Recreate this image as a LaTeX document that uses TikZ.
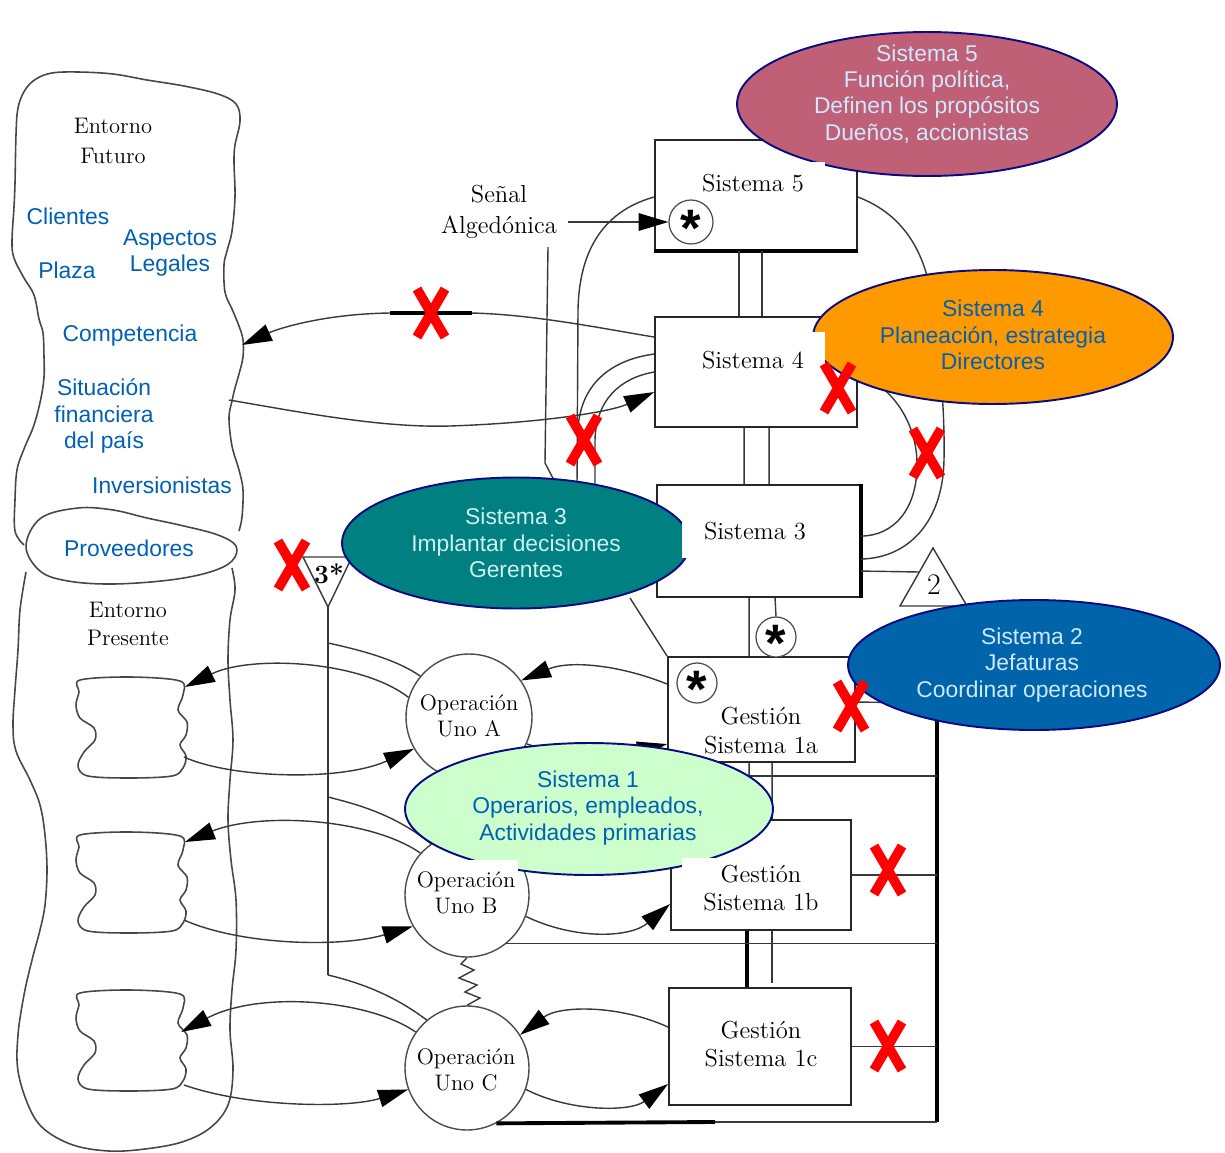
\documentclass[tikz,border=0pt]{standalone}
\usepackage{fontspec}
\newfontfamily\pixsans{Liberation Sans}
\usetikzlibrary{arrows.meta,shapes.geometric,calc}

\definecolor{vsmrose}{RGB}{192,96,118}
\definecolor{vsmorange}{RGB}{255,153,0}
\definecolor{vsmteal}{RGB}{0,128,128}
\definecolor{vsmblue}{RGB}{0,100,170}
\definecolor{vsmmint}{RGB}{204,255,204}
\definecolor{vsmnavy}{RGB}{10,10,130}
\definecolor{inkblue}{RGB}{0,96,180}
\definecolor{paleblue}{RGB}{205,232,255}
\definecolor{palecyan}{RGB}{205,240,240}
\definecolor{cutred}{RGB}{255,0,0}

\tikzset{
  wire/.style={draw=black!78,line width=0.8pt},
  heavywire/.style={draw=black,line width=2.2pt},
  envline/.style={draw=black!72,line width=0.9pt},
  arrowtip/.style={-{Triangle[length=17pt,width=10pt,black]}},
  sysbox/.style={draw=black!85,line width=1.1pt,fill=white,inner sep=0pt},
  opnode/.style={circle,draw=black!70,line width=0.8pt,fill=white,inner sep=0pt},
  starnode/.style={circle,draw=black!70,line width=0.7pt,fill=white,inner sep=0pt},
  bubble/.style={ellipse,draw=vsmnavy,line width=1.1pt,inner sep=0pt},
  whitepatch/.style={fill=white,draw=none},
  boxlabel/.style={font=\fontsize{14}{16.4}\selectfont,align=center,inner sep=0pt},
  oplabel/.style={font=\fontsize{12.8}{14.7}\selectfont,align=center,inner sep=0pt},
  envlabel/.style={font=\pixsans\fontsize{13}{15.3}\selectfont,text=inkblue,align=center,inner sep=0pt},
  bublabel/.style={font=\pixsans\fontsize{13}{15}\selectfont,align=center,inner sep=0pt},
  starlabel/.style={font=\pixsans\bfseries\fontsize{30}{30}\selectfont,inner sep=0pt,yshift=-3.8pt},
  cutx/.pic={\draw[cutred,line width=5.5pt] (-14,-24) -- (14,24) (14,-24) -- (-14,24);}
}

\begin{document}
\begin{tikzpicture}[x=0.02cm,y=-0.02cm]
\useasboundingbox (0,0) rectangle (1225,1153);

% ---------- environment: future (upper) and present (lower) ----------
\draw[envline] plot[smooth,tension=0.6] coordinates {(24,545) (15,531) (15,500) (17,470) (24,449) (34,425) (41,398) (44,377) (44,357) (43,333) (39,319) (34,295) (24,278) (14,258) (12,241) (14,207) (15,183) (16,135) (18,108) (25,90) (36,79) (52,73) (78,72) (113,74) (147,80) (184,86) (218,94) (236,104) (240,121) (235,145) (234,162) (235,197) (232,231) (227,251) (224,265) (225,292) (232,309) (239,326) (243,340) (243,357) (239,374) (235,388) (232,401) (229,418) (232,446) (239,470) (243,490) (242,517) (239,531)};
\draw[envline] plot[smooth,tension=0.6] coordinates {(26,572) (20,610) (18,650) (15,690) (13,725) (16,751) (30,780) (40,805) (45,835) (47,870) (45,905) (40,930) (32,960) (24,995) (18,1035) (18,1071) (29,1107) (44,1129) (73,1145) (109,1151) (145,1149) (182,1142) (210,1128) (228,1105) (233,1070) (230,1030) (232,990) (236,950) (236,900) (231,860) (228,820) (230,780) (233,740) (230,700) (228,660) (230,620) (235,590) (232,568)};
% suppliers band between both environments
\draw[envline] plot[smooth cycle,tension=0.6] coordinates {(26,546) (41,518) (78,508) (113,510) (147,518) (184,526) (218,535) (236,546) (232,561) (210,572) (170,580) (113,584) (68,581) (40,571)};

% markets served by each operation
\foreach \dy in {0,155,313}{
  \begin{scope}[shift={(0,\dy)}]
    \draw[envline] plot[smooth cycle,tension=0.55] coordinates {(80,680) (130,677) (180,681) (183,695) (178,710) (187,722) (186,735) (180,745) (186,756) (183,768) (172,776) (130,778) (88,776) (78,766) (84,752) (95,740) (94,728) (80,718) (76,705) (79,692)};
  \end{scope}
}
\coordinate (b1in) at (185,687);
\coordinate (b2in) at (185,842);
\coordinate (b3in) at (181,1032);
\coordinate (b1out) at (184,757);
\coordinate (b2out) at (184,920);
\coordinate (b3out) at (184,1085);
\coordinate (envA) at (242,345);
\coordinate (envB) at (229,400);

% ---------- management boxes ----------
\node[sysbox,minimum width=4.04cm,minimum height=2.2cm] (s5) at (756,195) {};
\node[sysbox,minimum width=4.04cm,minimum height=2.2cm] (s4) at (756,372) {};
\node[sysbox,minimum width=4.06cm,minimum height=2.24cm] (s3) at (758.5,541) {};
\node[sysbox,minimum width=3.74cm,minimum height=2.1cm] (g1a) at (761.5,709.5) {};
\node[sysbox,minimum width=3.6cm,minimum height=2.2cm] (g1b) at (761,875) {};
\node[sysbox,minimum width=3.64cm,minimum height=2.34cm] (g1c) at (760,1046.5) {};
\draw[heavywire] (s5.south west) -- (s5.south east);
\draw[heavywire] (s3.north east) -- (s3.south east);

% ---------- operations ----------
\node[opnode,minimum size=2.52cm] (opA) at (469,717) {};
\node[opnode,minimum size=2.48cm] (opB) at (467,895) {};
\node[opnode,minimum size=2.48cm] (opC) at (467,1068) {};

% ---------- monitoring circles ----------
\node[starnode,minimum size=0.88cm] (st5) at (691,222) {};
\node[starnode,minimum size=0.8cm] (st3) at (776,637) {};
\node[starnode,minimum size=0.8cm] (st1a) at (697,683) {};

% ---------- audit (3*) and coordination (2) triangles ----------
\coordinate (t3l) at (303,557);
\coordinate (t3r) at (352,557);
\coordinate (t3c) at (328,607);
\draw[wire] (t3l) -- (t3r) -- (t3c) -- cycle;
\coordinate (t2l) at (900,606);
\coordinate (t2r) at (967,606);
\coordinate (t2c) at (933,548);
\draw[wire] (t2l) -- (t2r) -- (t2c) -- cycle;

% ---------- connectors ----------
% System 4 <-> future environment
\draw[wire,arrowtip] ($(s4.north west)+(0,21)$) .. controls (600,328) and (530,314) .. (470,313) -- (390,313) .. controls (320,314) and (275,330) .. (envA);
\draw[line width=2.4pt] (390,313) -- (472,313);
\draw[wire,arrowtip] (envB) .. controls (300,412) and (380,428) .. (450,426) .. controls (540,423) and (610,412) .. ($(s4.north west)+(0,76)$);

% algedonic signal
\coordinate (algfoot) at (548,247);
\draw[wire] (algfoot) -- (545,463) -- (556,484);

% homeostats on the left: S5/S4 with S3
\draw[wire] ($(s5.north west)+(0,58)$) .. controls (600,212) and (579,255) .. (578,310) -- (577,486);
\draw[wire] ($(s4.north west)+(0,38)$) .. controls (610,360) and (580,385) .. (578,430);
\draw[wire] ($(s4.north west)+(0,56)$) .. controls (620,378) and (596,400) .. (595,440) -- (595,486) .. controls (600,505) and (630,510) .. ($(s3.north west)+(0,23)$);

% homeostats on the right: S5/S4 with S3
\draw[wire] ($(s5.north east)+(0,58)$) .. controls (905,215) and (928,255) .. (933,310) .. controls (940,360) and (945,410) .. (944,460) .. controls (943,520) and (910,558) .. ($(s3.north east)+(0,75)$);
\draw[wire] ($(s4.north east)+(0,58)$) .. controls (890,385) and (916,420) .. (917,462) .. controls (918,510) and (893,536) .. ($(s3.north east)+(0,52)$);

% vertical command channels
\draw[wire] ($(s5.south west)+(85,0)$) -- ($(s4.north west)+(85,0)$);
\draw[wire] ($(s5.south west)+(108,0)$) -- ($(s4.north west)+(108,0)$);
\draw[wire] ($(s4.south west)+(90,0)$) -- ($(s3.north west)+(88,0)$);
\draw[wire] ($(s4.south west)+(115,0)$) -- ($(s3.north west)+(113,0)$);
\draw[wire] ($(s3.south west)+(93,0)$) -- ($(g1a.north west)+(82,0)$);
\draw[wire] ($(s3.south west)+(119,0)$) -- (st3.north);
\draw[wire] ($(g1a.south west)+(82,0)$) -- ($(g1b.north west)+(79,0)$);
\draw[wire] ($(g1a.south west)+(105,0)$) -- ($(g1b.north west)+(102,0)$);
\draw[heavywire] ($(g1b.south west)+(77,0)$) -- ($(g1c.north west)+(79,0)$);
\draw[wire] ($(g1b.south west)+(102,0)$) -- ++(0,52);
\draw[wire] (g1a.north west) -- (630,598);

% S3 to coordination triangle
\draw[wire] ($(s3.north east)+(0,87)$) -- (919,572);

% coordination bus on the right
\coordinate (bustop) at (937,703);
\coordinate (busbot) at (937,1122);
\coordinate (busmid) at (715,1122);
\coordinate (tap) at ($(g1a.south west)+(82,13)$);
\draw[heavywire] (bustop) -- (busbot);
\draw[wire] ($(g1a.north east)+(0,46)$) -- (bustop);
\draw[wire] (tap) -- (tap -| bustop);
\draw[wire] (g1b.east) -- (g1b.east -| bustop);
\draw[wire] (g1c.east) -- (g1c.east -| bustop);
\draw[wire] (opB.-51) -- (opB.-51 -| bustop);
\draw[wire] (busbot) -- (busmid);
\draw[heavywire] (busmid) -- (opC.-62);

% algedonic arrow into S5
\coordinate (algtip) at ($(st5.west)+(-100,0)$);
\draw[wire,arrowtip] (algtip) -- (st5.west);

% operations <-> their management
\draw[wire,arrowtip] ($(g1a.north west)+(0,28)$) .. controls (620,665) and (570,660) .. (opA.35);
\draw[wire,arrowtip] (opA.-25) .. controls (580,762) and (630,752) .. ($(g1a.north west)+(0,88)$);
\draw[wire,arrowtip] (opB.-20) .. controls (575,940) and (630,938) .. ($(g1b.north west)+(0,85)$);
\draw[wire,arrowtip] ($(g1c.north west)+(0,40)$) .. controls (620,1005) and (560,1005) .. (opC.32);
\draw[wire,arrowtip] (opC.-20) .. controls (570,1112) and (630,1112) .. ($(g1c.north west)+(0,97)$);

% operations <-> markets
\draw[wire,arrowtip] (opA.162) .. controls (360,660) and (250,655) .. (b1in);
\draw[wire,arrowtip] (b1out) .. controls (230,778) and (340,782) .. (opA.-150);
\draw[wire,arrowtip] (opB.138) .. controls (370,818) and (260,812) .. (b2in);
\draw[wire,arrowtip] (b2out) .. controls (240,945) and (340,948) .. (opB.-150);
\draw[wire,arrowtip] (opC.145) .. controls (370,1000) and (260,990) .. (b3in);
\draw[wire,arrowtip] (b3out) .. controls (250,1108) and (350,1108) .. (opC.-160);

% audit channel 3*
\coordinate (aud1) at (328,643);
\coordinate (aud2) at (328,797);
\coordinate (aud3) at (328,975);
\draw[wire] (t3c) -- (aud3);
\draw[wire] (aud1) .. controls (370,652) and (400,662) .. (opA.140);
\draw[wire] (aud2) .. controls (360,805) and (395,815) .. (opB.125);
\draw[wire] (aud3) .. controls (370,985) and (400,1000) .. (opC.130);

% link between operations B and C
\draw[wire] (opB.south) -- (461,964) -- (474,970) -- (459,978) -- (477,985) -- (465,992) -- (480,998) -- (opC.north);

% ---------- system bubbles ----------
\node[bubble,fill=vsmrose,minimum width=7.6cm,minimum height=2.88cm] (e5) at (927,104) {};
\node[bubble,fill=vsmorange,minimum width=7.2cm,minimum height=2.68cm] (e4) at (993,337) {};
\node[bubble,fill=vsmteal,minimum width=6.96cm,minimum height=2.62cm] (e3) at (516,543) {};
\node[bubble,fill=vsmblue,minimum width=7.44cm,minimum height=2.6cm] (e2) at (1034,665) {};
\node[bubble,fill=vsmmint,minimum width=7.36cm,minimum height=2.64cm] (e1) at (589,809) {};

% label backgrounds cutting into the bubbles
\fill[whitepatch] (716,162) rectangle (825,205);
\fill[whitepatch] (700,332) rectangle (825,404);
\fill[whitepatch] (682,516) rectangle (830,558);
\fill[whitepatch] (682,858) rectangle (845,925);
\fill[whitepatch] (421,860) rectangle (518,912);

% ---------- texts ----------
\node[bublabel,text=paleblue] (e5t) at (927,94) {Sistema 5\\Función política,\\Definen los propósitos\\Dueños, accionistas};
\node[bublabel,text=inkblue] (e4t) at (993,335) {Sistema 4\\Planeación, estrategia\\Directores};
\node[bublabel,text=palecyan] (e3t) at (516,543) {Sistema 3\\Implantar decisiones\\Gerentes};
\node[bublabel,text=paleblue] (e2t) at (1032,665) {Sistema 2\\Jefaturas\\Coordinar operaciones};
\node[bublabel,text=inkblue] (e1t) at (588,808) {Sistema 1\\Operarios, empleados,\\Actividades primarias};

\node[boxlabel] (s5t) at (753,183) {Sistema 5};
\node[boxlabel] (s4t) at (753,360) {Sistema 4};
\node[boxlabel] (s3t) at (755,531) {Sistema 3};
\node[boxlabel] (g1at) at (761,731) {Gestión\\Sistema 1a};
\node[boxlabel] (g1bt) at (761,888) {Gestión\\Sistema 1b};
\node[boxlabel] (g1ct) at (761,1044) {Gestión\\Sistema 1c};

\node[oplabel] (opAt) at (469,716) {Operación\\Uno A};
\node[oplabel] (opBt) at (466,893) {Operación\\Uno B};
\node[oplabel] (opCt) at (466,1070) {Operación\\Uno C};

\node[boxlabel,font=\fontsize{14}{17.6}\selectfont] (alg) at (499,212) {Señal\\Algedónica};
\node[oplabel,font=\fontsize{12.8}{17.5}\selectfont] (fut) at (113,141) {Entorno\\Futuro};
\node[oplabel,font=\fontsize{12.8}{15.8}\selectfont] (pres) at (128,624) {Entorno\\Presente};

\node[envlabel] (cli) at (68,216) {Clientes};
\node[envlabel,font=\pixsans\fontsize{13}{14.7}\selectfont] (leg) at (170,253) {Aspectos\\Legales};
\node[envlabel] (pla) at (67,270) {Plaza};
\node[envlabel] (com) at (130,336) {Competencia};
\node[envlabel] (fin) at (104,416) {Situación\\financiera\\del país};
\node[envlabel] (inv) at (162,485) {Inversionistas};
\node[envlabel] (prov) at (129,548) {Proveedores};

\node[starlabel] (st5t) at (st5) {*};
\node[starlabel] (st3t) at (st3) {*};
\node[starlabel] (st1at) at (st1a) {*};
\node[inner sep=0pt,font=\fontsize{15}{15}\selectfont\bfseries] (t3t) at (329,574) {3*};
\node[inner sep=0pt,font=\fontsize{17}{17}\selectfont] (t2t) at (934,585) {2};

% ---------- broken links ----------
\pic at (431,313) {cutx};
\pic at (584,440) {cutx};
\pic at (838,388) {cutx};
\pic at (927,453) {cutx};
\pic at (292,565) {cutx};
\pic at (851,706) {cutx};
\pic at (888,870) {cutx};
\pic at (888,1046) {cutx};
\end{tikzpicture}
\end{document}
